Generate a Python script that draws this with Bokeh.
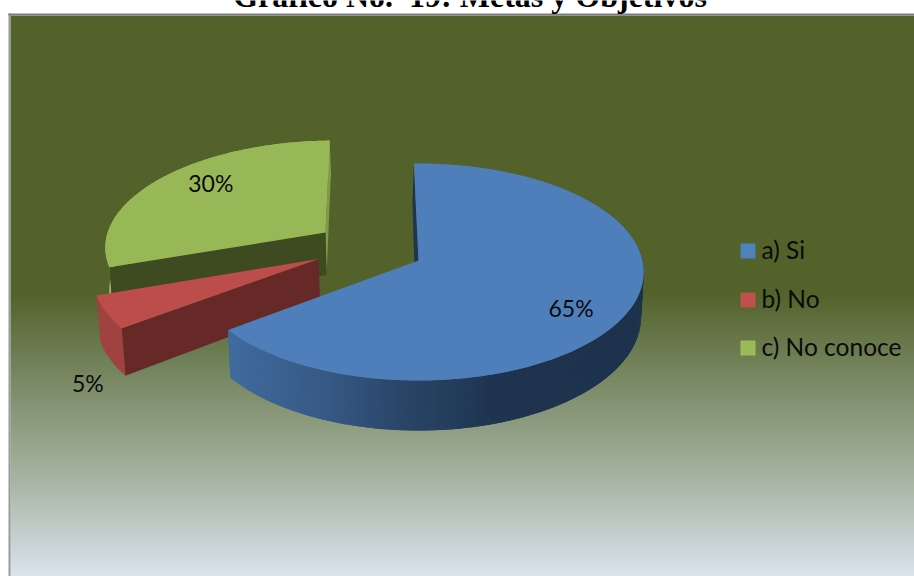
import math
from bokeh.embed import file_html
from bokeh.resources import INLINE
from bokeh.plotting import figure
from bokeh.models import Range1d
from bokeh.core.properties import value

# Survey answers
categories = ["a) Si", "b) No", "c) No conoce"]
shares = [65, 5, 30]
share_labels = ["65%", "5%", "30%"]
title_text = "Gráfico No.\u00a0 19: Metas y Objetivos"

# Slice styling
top_colors = ["#4e7fba", "#bd4d4a", "#98b857"]
legend_colors = ["#4f81bd", "#c0504d", "#9bbb59"]
outer_colors = [None, "#a04240", "#93b253"]
inner_colors = ["#1f3450", "#662928", "#3e4a20"]
end_wall_colors = [None, None, "#7f9a49"]
side_stops = [(230, "#3f6b9e"), (290, "#3b5f8e"), (340, "#345580"), (400, "#2a4566"),
              (457, "#243c5b"), (490, "#1f3450"), (645, "#1e324d")]

# Background gradient stops by pixel row
bg_stops = [(15, "#52622a"), (290, "#52622a"), (400, "#829272"), (480, "#a8b4a2"), (576, "#dbe3ee")]

# Projection of the tilted pie disc
CX, CY = 418.0, 260.0
A, B, K = 224.0, 107.3, 0.106
START = -1.3
explode = [(0.0, 0.0), (-0.446, 0.015), (-0.427, 0.268)]
label_radius = [0.775, 1.35, 0.77]
label_turn = [7.2, -21.5, 6.8]
BASE_SCALE = 0.988


def project(X, Y):
    d = 1 + K * Y
    return CX + A * X / d, CY - B * Y / d


def base_of(X, Y):
    x, y = project(X, Y)
    return CX + (x - CX) * BASE_SCALE, y + 44 - 6 * Y


def rim(i, t):
    ox, oy = explode[i]
    r = math.radians(t)
    return ox + math.sin(r), oy + math.cos(r)


def hex_rgb(c):
    return tuple(int(c[j:j + 2], 16) for j in (1, 3, 5))


def blend(stops, t):
    if t <= stops[0][0]:
        return stops[0][1]
    for (t0, c0), (t1, c1) in zip(stops, stops[1:]):
        if t <= t1:
            f = (t - t0) / (t1 - t0)
            a, b = hex_rgb(c0), hex_rgb(c1)
            return "#%02x%02x%02x" % tuple(round(a[k] + (b[k] - a[k]) * f) for k in range(3))
    return stops[-1][1]


p = figure(width=914, height=576, output_backend="svg", toolbar_location=None,
           x_range=Range1d(0, 914), y_range=Range1d(576, 0), min_border=0,
           outline_line_color=None, background_fill_color="white", border_fill_color="white")
p.axis.visible = False
p.grid.visible = False

# Chart area: one strip per pixel row, plus the frame
rows = list(range(15, 576))
p.quad(left=10, right=914, top=rows, bottom=[r + 1.5 for r in rows],
       fill_color=[blend(bg_stops, r) for r in rows], fill_alpha=1.0, line_color=None)
p.quad(left=[8], right=[10], top=[13], bottom=[576], fill_color="#9a9a9a", fill_alpha=1.0, line_color=None)
p.quad(left=[8], right=[914], top=[13], bottom=[15], fill_color="#7d7d7d", fill_alpha=1.0, line_color=None)

# Slice angle ranges derive from the shares
total = sum(shares)
spans = []
acc = START
for s in shares:
    spans.append((acc, acc + 360 * s / total))
    acc = spans[-1][1]


def arc_angles(i, n=None):
    a0, a1 = spans[i]
    n = n or max(8, int((a1 - a0) * 1.5))
    return [a0 + (a1 - a0) * j / n for j in range(n + 1)]


def solid_patch(points, color):
    p.patch([q[0] for q in points], [q[1] for q in points],
            fill_color=color, fill_alpha=1.0, line_color=None)


def draw_slice(i):
    ts = arc_angles(i)
    apex = explode[i]
    pts = [rim(i, t) for t in ts]

    # outer curved face
    if i == 0:
        # only the front-facing stretch; each strip overlaps the next to hide seams
        front = [q for q in pts if q[1] < 0.12]
        for j in range(len(front) - 1):
            q0, q1 = front[j], front[min(j + 2, len(front) - 1)]
            mid = project(*front[j + 1])[0]
            solid_patch([project(*q0), project(*q1), base_of(*q1), base_of(*q0)],
                        blend(side_stops, mid))
    else:
        solid_patch([project(*q) for q in pts] + [base_of(*q) for q in reversed(pts)], outer_colors[i])

    # straight walls running in to the apex
    ap_t, ap_b = project(*apex), base_of(*apex)
    t0, b0 = project(*pts[0]), base_of(*pts[0])
    if i == 0:
        # thin sliver of the wall behind the opening
        solid_patch([t0, ap_t, (ap_b[0] - 3, ap_b[1]), (b0[0] - 1.5, b0[1])], inner_colors[0])
    else:
        if end_wall_colors[i]:
            t1, b1 = project(*pts[-1]), base_of(*pts[-1])
            solid_patch([t1, ap_t, ap_b, b1], end_wall_colors[i])
        solid_patch([ap_t, t0, b0, ap_b], inner_colors[i])

    # top face
    solid_patch([project(*apex)] + [project(*q) for q in pts], top_colors[i])


# Painted back to front
for i in (2, 1, 0):
    draw_slice(i)

# Value labels
fonts = value("Lato")
lx, ly = [], []
for i in range(3):
    mid = sum(spans[i]) / 2 + label_turn[i]
    r = math.radians(mid)
    lx_i, ly_i = project(explode[i][0] + label_radius[i] * math.sin(r),
                         explode[i][1] + label_radius[i] * math.cos(r))
    lx.append(lx_i)
    ly.append(ly_i)
p.text(lx, ly, text=share_labels, text_font=fonts, text_font_size="23px", text_color="#0a0a0a",
       text_align="center", text_baseline="middle")

# Legend
legend_y = [249, 298, 346]
p.quad(left=[740] * 3, right=[755] * 3, top=[y + 1.5 - 7.5 for y in legend_y], bottom=[y + 1.5 + 7.5 for y in legend_y],
       fill_color=legend_colors, fill_alpha=1.0, line_color=None)
p.text([761] * 3, legend_y, text=categories, text_font=fonts, text_font_size="24.5px", text_color="#0a0a0a",
       text_align="left", text_baseline="middle")

# Heading, partly cut by the page top
p.text([469.5], [-4.5], text=[title_text], text_font=value("Liberation Serif"), text_font_size="32px",
       text_font_style="bold", text_color="black", text_align="center", text_baseline="alphabetic")

open("out.html", "w").write(file_html(p, INLINE))
